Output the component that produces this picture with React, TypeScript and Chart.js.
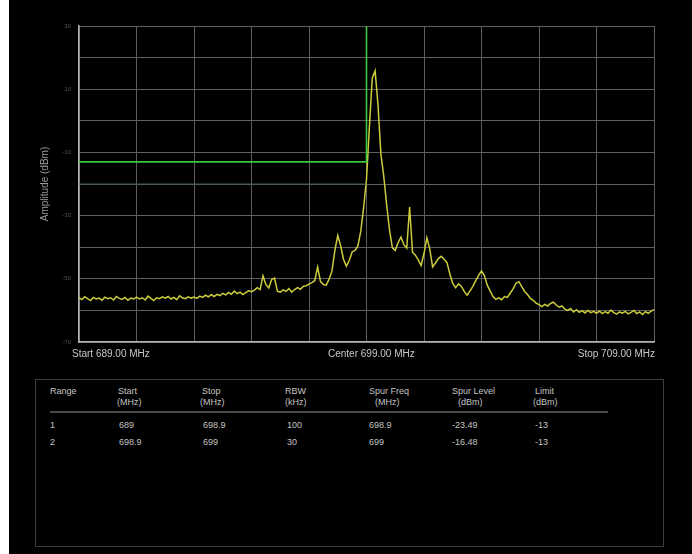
import React, { useEffect, useRef } from "react";
import { Chart, registerables } from "chart.js";

Chart.register(...registerables);

const FONT = "'Liberation Sans', Arial, sans-serif";

const START_MHZ = 689;
const STOP_MHZ = 709;
const STEP_MHZ = 0.1;
const GRID_STEP_MHZ = 2;
const REF_LEVEL_DBM = 30;
const BOTTOM_LEVEL_DBM = -70;
const Y_TICK_LABELS = [30, 10, -10, -30, -50, -70];
const X_LABELS = ["Start 689.00 MHz", "Center 699.00 MHz", "Stop 709.00 MHz"];
const Y_TITLE = "Amplitude (dBm)";

// trace samples every 0.1 MHz from 689.0 to 709.0 MHz (dBm)
const TRACE_DBM = [
  -56.0, -56.6, -55.7, -56.3, -56.9, -55.9, -56.4, -56.1, -56.8, -55.8,
  -56.3, -56.0, -56.7, -55.6, -56.2, -56.5, -55.9, -56.8, -56.1, -56.4,
  -55.8, -56.4, -56.0, -56.7, -55.5, -56.2, -56.9, -56.0, -56.3, -55.7,
  -56.1, -55.6, -56.4, -55.9, -56.6, -55.4, -56.0, -56.3, -55.7, -56.1,
  -55.8, -56.2, -55.5, -55.9, -55.2, -55.7, -55.0, -55.6, -54.9, -55.3,
  -54.6, -55.1, -54.3, -54.9, -53.9, -54.7, -54.2, -55.0, -54.4, -53.8,
  -54.1, -53.6, -52.8, -53.4, -49.1, -51.8, -52.9, -50.2, -49.8, -53.9,
  -54.2, -53.5, -54.0, -53.1, -54.2, -53.4, -52.8, -53.3, -52.4, -52.2,
  -51.7, -51.2, -50.6, -46.3, -50.9, -51.8, -52.0, -50.1, -47.5, -41.0,
  -36.3, -39.5, -43.8, -46.0, -44.2, -41.5, -41.0, -39.6, -35.0, -27.5,
  -18.5, -2.0, 13.5, 15.8, 5.0, -10.5, -17.5, -26.5, -34.5, -40.2,
  -41.0, -38.5, -36.8, -39.2, -40.3, -27.3, -41.6, -42.5, -44.0, -45.8,
  -42.0, -37.0, -40.5, -46.2, -45.0, -43.6, -42.9, -43.8, -44.9, -48.5,
  -51.5, -52.8, -51.6, -52.4, -54.0, -55.2, -53.8, -52.4, -50.6, -48.9,
  -47.5, -49.0, -52.0, -53.8, -55.6, -56.5, -56.0, -56.6, -55.6, -55.9,
  -54.5, -53.2, -51.4, -50.9, -52.5, -54.0, -55.0, -56.2, -56.8, -57.7,
  -58.2, -58.8, -58.1, -58.6, -57.8, -57.4, -58.3, -59.0, -58.6, -59.6,
  -60.0, -59.4, -60.5, -59.8, -60.6, -60.1, -60.8, -60.0, -60.7, -60.3,
  -60.9, -60.2, -61.0, -60.4, -60.9, -59.9, -60.7, -61.2, -60.5, -60.9,
  -60.3, -61.1, -60.6, -60.0, -61.0, -60.5, -61.3, -60.4, -60.9, -60.2,
  -59.8,
];

const LIMIT_FREQS = [689, 699, 699];
const LIMIT_DBM = [-13, -13, 30];
const LIMIT2_FREQS = [689, 699];
const LIMIT2_DBM = [-20, -20];

const TABLE_HEADERS = [
  ["Range", ""],
  ["Start", "(MHz)"],
  ["Stop", "(MHz)"],
  ["RBW", "(kHz)"],
  ["Spur Freq", "(MHz)"],
  ["Spur Level", "(dBm)"],
  ["Limit", "(dBm)"],
];
const TABLE_ROWS = [
  ["1", "689", "698.9", "100", "698.9", "-23.49", "-13"],
  ["2", "698.9", "699", "30", "699", "-16.48", "-13"],
];

// layout (wrapper coordinates)
const COL_X = [41, 110, 194, 278, 360, 443, 526];
const HEAD1_X = [41, 109, 193, 276, 360, 443, 526];
const HEAD2_X = [41, 108, 191, 276, 366, 449, 524];

export default function App() {
  const canvasRef = useRef<HTMLCanvasElement | null>(null);

  useEffect(() => {
    const canvas = canvasRef.current;
    if (!canvas) return;
    const tracePts = TRACE_DBM.map((v, i) => ({
      x: +(START_MHZ + i * STEP_MHZ).toFixed(2),
      y: v,
    }));
    const limitPts = LIMIT_FREQS.map((f, i) => ({ x: f, y: LIMIT_DBM[i] }));
    const limit2Pts = LIMIT2_FREQS.map((f, i) => ({ x: f, y: LIMIT2_DBM[i] }));

    const chart = new Chart(canvas, {
      type: "line",
      data: {
        datasets: [
          {
            data: limit2Pts,
            borderColor: "#3a5c3a",
            borderWidth: 1,
            pointRadius: 0,
          },
          {
            data: limitPts,
            borderColor: "#3ec63e",
            borderWidth: 1.6,
            pointRadius: 0,
          },
          {
            data: tracePts,
            borderColor: "#cccc3c",
            borderWidth: 1.5,
            pointRadius: 0,
          },
        ],
      },
      options: {
        animation: false,
        responsive: false,
        maintainAspectRatio: false,
        layout: { padding: { left: 0, top: 26, right: 38, bottom: 0 } },
        plugins: { legend: { display: false }, tooltip: { enabled: false } },
        elements: { line: { tension: 0 } },
        scales: {
          x: {
            type: "linear",
            min: START_MHZ,
            max: STOP_MHZ,
            ticks: { stepSize: GRID_STEP_MHZ, display: false },
            grid: { color: "#5e5e5e", lineWidth: 1, drawTicks: false },
            border: { color: "#b4b4b4", width: 1.5 },
            afterFit: (s: any) => {
              s.height = 28;
            },
          },
          y: {
            type: "linear",
            min: BOTTOM_LEVEL_DBM,
            max: REF_LEVEL_DBM,
            ticks: {
              stepSize: 10,
              color: "#555555",
              font: { size: 6, family: FONT },
              padding: 8,
              callback: (v: any) => (Y_TICK_LABELS.includes(Number(v)) ? String(v) : ""),
            },
            grid: { color: "#5e5e5e", lineWidth: 1, drawTicks: false },
            border: { color: "#b4b4b4", width: 1.5 },
            title: {
              display: true,
              text: Y_TITLE,
              color: "#999999",
              font: { size: 10, family: FONT },
              padding: { top: 30, bottom: 0 },
            },
            afterFit: (s: any) => {
              s.width = 70;
            },
          },
        },
      },
    });
    return () => chart.destroy();
  }, []);

  const textStyle: React.CSSProperties = {
    position: "absolute",
    color: "#c4c4c4",
    fontFamily: FONT,
    fontSize: 9,
    lineHeight: "11px",
    whiteSpace: "nowrap",
  };

  return (
    <div
      style={{
        position: "absolute",
        left: 9,
        top: 0,
        width: 683,
        height: 554,
        background: "#000",
        overflow: "hidden",
      }}
    >
      <canvas
        ref={canvasRef}
        width={683}
        height={370}
        style={{ position: "absolute", left: 0, top: 0, width: 683, height: 370 }}
      />
      <div style={{ ...textStyle, fontSize: 10, left: 63, top: 348, color: "#c8c8c8" }}>{X_LABELS[0]}</div>
      <div style={{ ...textStyle, fontSize: 10, left: 319, top: 348, color: "#c8c8c8" }}>{X_LABELS[1]}</div>
      <div style={{ ...textStyle, fontSize: 10, right: 37, top: 348, color: "#c8c8c8" }}>{X_LABELS[2]}</div>

      <div
        style={{
          position: "absolute",
          left: 26,
          top: 379,
          width: 627,
          height: 166,
          border: "1px solid #3c3c3c",
        }}
      />
      <div
        style={{
          position: "absolute",
          left: 41,
          top: 411,
          width: 558,
          height: 2,
          background: "#4a4a4a",
        }}
      />
      {TABLE_HEADERS.map((h, i) => (
        <React.Fragment key={"h" + i}>
          <div style={{ ...textStyle, left: HEAD1_X[i], top: 386 }}>{h[0]}</div>
          {h[1] ? <div style={{ ...textStyle, left: HEAD2_X[i], top: 397 }}>{h[1]}</div> : null}
        </React.Fragment>
      ))}
      {TABLE_ROWS.map((row, r) =>
        row.map((cell, c) => (
          <div key={"c" + r + "_" + c} style={{ ...textStyle, left: COL_X[c], top: 420 + r * 17 }}>
            {cell}
          </div>
        ))
      )}
    </div>
  );
}
